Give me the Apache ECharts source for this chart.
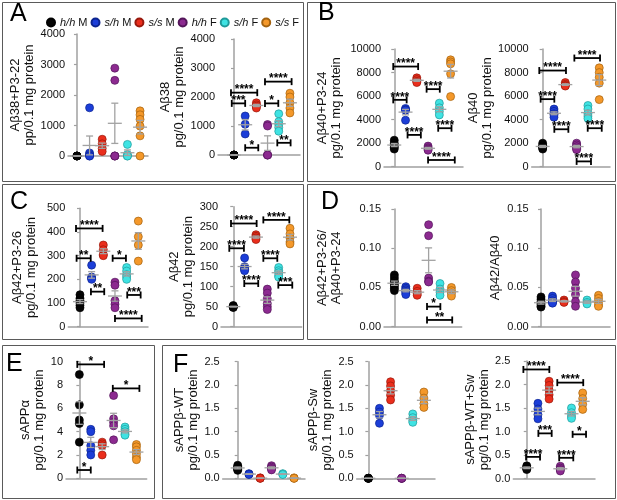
<!DOCTYPE html>
<html lang="en">
<head>
  <meta charset="UTF-8">
  <title>Aβ and sAPP levels</title>
  <style>html, body { margin: 0; padding: 0; background: #fff; }</style>
</head>
<body>
  <div id="main" style="width:617px;height:500px;"></div>
  <script src="https://cdn.jsdelivr.net/npm/echarts@6/dist/echarts.min.js"></script>
  <script>
  var myChart = echarts.init(document.getElementById('main'))
  var font = '"Liberation Sans", Arial, sans-serif'

  var groups = ['h/h M', 's/h M', 's/s M', 'h/h F', 's/h F', 's/s F']
  var colors = ['#050505', '#1c3ed8', '#ea2e1c', '#8c2a90', '#3fe3e3', '#f4982a']
  var edges = ['#000000', '#0c2490', '#98180c', '#53155a', '#1f9a9a', '#a3620f']

  // values per group (h/h M, s/h M, s/s M, h/h F, s/h F, s/s F)
  var ab38p3 = [[0, 0, 0, 0], [1580, 100, 50, 0, 0], [550, 400, 250, 150], [2880, 2480, 0, 0, 0], [380, 50, 0, 0], [1480, 1350, 1200, 980, 660, 0]]
  var ab38 = [[0, 0, 0, 0], [1345, 1060, 724], [1800, 1730, 1680, 1620], [1050, 1000, 0, 0, 0], [1420, 1150, 1050, 950, 820], [2130, 2000, 1800, 1620, 1450]]
  var ab40p3 = [[2250, 2000, 1800, 1650, 1500], [4950, 4850, 4800, 3950], [7550, 7400, 7250, 7150], [1750, 1600, 1500, 1400], [5400, 5000, 4700, 4400], [9080, 8900, 8740, 7890, 5960]]
  var ab40 = [[2000, 1800, 1700, 1600, 1500], [4900, 4700, 4500, 4400, 4200], [7150, 7000, 6900, 6850], [2000, 1850, 1700, 1550, 1450], [5200, 4900, 4500, 4300, 4100], [8400, 8000, 7600, 7100, 5700]]
  var ab42p3 = [[135, 120, 110, 100, 90, 80], [260, 210, 205, 200], [345, 325, 305, 300], [188, 175, 110, 95, 80], [250, 235, 220, 210, 200], [446, 380, 345, 277]]
  var ab42 = [[53, 51, 50, 49, 48], [172, 150, 147, 143, 140], [230, 226, 222, 218], [94, 84, 70, 58, 50, 43], [148, 140, 135, 128, 124], [246, 232, 222, 212, 207]]
  var ratioP3 = [[0.066, 0.062, 0.058, 0.055, 0.052, 0.049, 0.046], [0.051, 0.049, 0.047, 0.045, 0.043, 0.041], [0.049, 0.045, 0.042, 0.040], [0.130, 0.116, 0.062, 0.058, 0.057], [0.055, 0.048, 0.044, 0.040], [0.050, 0.046, 0.043, 0.039]]
  var ratio = [[0.038, 0.035, 0.032, 0.030, 0.028, 0.026, 0.025], [0.039, 0.036, 0.033, 0.031, 0.030], [0.034, 0.032, 0.031], [0.066, 0.057, 0.049, 0.041, 0.032, 0.026], [0.034, 0.031, 0.029], [0.040, 0.036, 0.032, 0.028, 0.026]]
  var sappA = [[8.9, 6.3, 5.0, 4.7, 3.1], [4.2, 4.0, 2.8, 2.4, 2.0], [3.1, 2.95, 2.8, 2.0], [7.1, 5.1, 4.8, 4.5, 3.3], [4.4, 4.2, 4.0, 3.8, 3.7], [2.9, 2.7, 2.4, 2.1, 1.8, 1.6]]
  var sappWT = [[0.28, 0.25, 0.22, 0.19, 0.17], [0.10, 0.09, 0.08], [0.01, 0, 0], [0.27, 0.24, 0.21, 0.18], [0.10, 0.09, 0.08], [0.01, 0, 0]]
  var sappSw = [[0, 0, 0, 0], [1.50, 1.42, 1.35, 1.18], [2.07, 1.98, 1.88, 1.78, 1.68], [0, 0, 0, 0], [1.38, 1.30, 1.24, 1.20], [1.85, 1.72, 1.60, 1.52]]
  var sappAll = [[0.27, 0.24, 0.21, 0.19], [1.60, 1.48, 1.36, 1.27], [2.07, 1.98, 1.88, 1.78, 1.69], [0.26, 0.22, 0.19, 0.16], [1.50, 1.40, 1.33, 1.28], [1.82, 1.70, 1.58, 1.47]]

  // significance brackets: [from group, to group, level, stars]
  var ab38Sig = [[-0.2, 1.0, 1780, '***'], [-0.27, 2.08, 2150, '****'], [1.0, 2.17, 250, '*'], [2.77, 3.96, 1780, '*'], [2.77, 5.15, 2530, '****'], [3.87, 5.06, 420, '**']]
  var ab40p3Sig = [[-0.09, 2.12, 8510, '****'], [-0.09, 1.1, 5680, '****'], [1.18, 2.36, 2700, '****'], [2.87, 4.04, 6590, '****'], [3.9, 5.08, 3270, '****'], [3.0, 5.37, 570, '****']]
  var ab40Sig = [[-0.3, 2.06, 8170, '****'], [2.8, 5.07, 9230, '****'], [-0.18, 1.03, 5740, '****'], [1.03, 2.27, 3180, '****'], [3.98, 5.22, 3270, '****'], [3.0, 4.27, 450, '****']]
  var ab42p3Sig = [[-0.34, 1.94, 415, '****'], [-0.29, 0.92, 289, '**'], [0.94, 2.08, 148, '**'], [2.8, 3.94, 289, '*'], [4.05, 5.2, 134, '***'], [3.0, 5.29, 35, '****']]
  var ab42Sig = [[-0.2, 2.06, 258, '****'], [2.65, 4.94, 267, '****'], [-0.35, 0.94, 196, '****'], [0.97, 2.2, 108, '****'], [2.65, 3.88, 171, '****'], [3.97, 5.2, 104, '***']]
  var ratioP3Sig = [[2.86, 4.03, 0.0256, '*'], [2.86, 5.07, 0.0086, '**']]
  var sappASig = [[-0.18, 2.17, 9.77, '*'], [2.93, 5.26, 7.71, '*'], [-0.18, 1.0, 0.71, '*']]
  var sappAllSig = [[-0.3, 2.02, 2.32, '****'], [2.73, 5.05, 2.04, '****'], [1.04, 2.23, 0.96, '***'], [4.1, 5.3, 0.94, '*'], [-0.06, 1.19, 0.46, '****'], [2.9, 4.16, 0.44, '****']]

  var plots = [
    { vals: ab38p3, sig: [], name: 'Aβ38+P3-22\npp/0.1 mg protein', max: 4000, step: 1000, dec: 0 },
    { vals: ab38, sig: ab38Sig, name: 'Aβ38\npg/0.1 mg protein', max: 4000, step: 1000, dec: 0 },
    { vals: ab40p3, sig: ab40p3Sig, name: 'Aβ40+P3-24\npg/0.1 mg protein', max: 10000, step: 2000, dec: 0 },
    { vals: ab40, sig: ab40Sig, name: 'Aβ40\npg/0.1 mg protein', max: 10000, step: 2000, dec: 0 },
    { vals: ab42p3, sig: ab42p3Sig, name: 'Aβ42+P3-26\npg/0.1 mg protein', max: 500, step: 100, dec: 0 },
    { vals: ab42, sig: ab42Sig, name: 'Aβ42\npg/0.1 mg protein', max: 300, step: 50, dec: 0 },
    { vals: ratioP3, sig: ratioP3Sig, name: 'Aβ42+P3-26/\nAβ40+P3-24', max: 0.15, step: 0.05, dec: 2 },
    { vals: ratio, sig: [], name: 'Aβ42/Aβ40', max: 0.15, step: 0.05, dec: 2 },
    { vals: sappA, sig: sappASig, name: 'sAPPα\npg/0.1 mg protein', max: 10, step: 2, dec: 0 },
    { vals: sappWT, sig: [], name: 'sAPPβ-WT\npg/0.1 mg protein', max: 2.5, step: 0.5, dec: 1 },
    { vals: sappSw, sig: [], name: 'sAPPβ-Sw\npg/0.1 mg protein', max: 2.5, step: 0.5, dec: 1 },
    { vals: sappAll, sig: sappAllSig, name: 'sAPPβ-WT+Sw\npg/0.1 mg protein', max: 2.5, step: 0.5, dec: 1 }
  ]

  // plot boxes in px: [axis x, axis end x, top tick y, zero y, x min, x max, name gap]
  var boxes = [
    [68, 148, 34, 156, -0.71, 5.63, 30],
    [218, 300, 39, 155, -1.43, 5.9, 20],
    [384, 463, 49, 166.7, -0.91, 6.1, 41],
    [531.7, 610, 49, 166.7, -0.97, 5.95, 28],
    [68.3, 148, 208.3, 326.7, -1.0, 5.83, 30],
    [221, 301.7, 206.7, 326.7, -1.08, 6.03, 26],
    [384, 461.7, 209, 326.7, -0.91, 5.9, 41],
    [531.7, 610, 209, 326.7, -0.81, 6.0, 29],
    [66, 146.7, 361.7, 478.3, -1.17, 5.9, 12],
    [222.7, 305, 361.7, 478.3, -1.33, 5.97, 17],
    [356.7, 435, 361.7, 478.3, -1.05, 6.0, 19],
    [513.3, 595, 361, 478.5, -1.2, 6.1, 19]
  ]

  function meanSem(v) {
    var m = v.reduce(function (a, b) { return a + b }, 0) / v.length
    var ss = 0
    v.forEach(function (x) { ss += (x - m) * (x - m) })
    var sd = v.length > 1 ? Math.sqrt(ss / (v.length - 1)) : 0
    return [m, sd / Math.sqrt(v.length)]
  }

  function drawMean(params, api) {
    var g = api.value(0), m = api.value(1), s = api.value(2)
    var c = api.coord([g, m]), hi = api.coord([g, m + s]), lo = api.coord([g, Math.max(0, m - s)])
    var st = { stroke: '#a2a2a2', lineWidth: 1.3 }
    return { type: 'group', children: [
      { type: 'line', shape: { x1: c[0] - 7, y1: c[1], x2: c[0] + 7, y2: c[1] }, style: st },
      { type: 'line', shape: { x1: c[0], y1: lo[1], x2: c[0], y2: hi[1] }, style: st },
      { type: 'line', shape: { x1: c[0] - 3.5, y1: hi[1], x2: c[0] + 3.5, y2: hi[1] }, style: st },
      { type: 'line', shape: { x1: c[0] - 3.5, y1: lo[1], x2: c[0] + 3.5, y2: lo[1] }, style: st }
    ]}
  }

  function bracketRenderer(sig) {
    return function (params, api) {
      var a = api.coord([api.value(0), api.value(2)])
      var b = api.coord([api.value(1), api.value(2)])
      var st = { stroke: '#000', lineWidth: 1.8 }
      return { type: 'group', children: [
        { type: 'line', shape: { x1: a[0], y1: a[1], x2: b[0], y2: b[1] }, style: st },
        { type: 'line', shape: { x1: a[0], y1: a[1] - 3.5, x2: a[0], y2: a[1] + 3.5 }, style: st },
        { type: 'line', shape: { x1: b[0], y1: b[1] - 3.5, x2: b[0], y2: b[1] + 3.5 }, style: st },
        { type: 'text', style: { text: sig[params.dataIndex][3], x: (a[0] + b[0]) / 2, y: a[1] - 2.5,
          align: 'center', verticalAlign: 'middle', font: 'bold 12px ' + font, fill: '#000' } }
      ]}
    }
  }

  var grid = [], xAxis = [], yAxis = [], series = []
  plots.forEach(function (p, i) {
    var b = boxes[i]
    grid.push({ left: b[0], right: 617 - b[1], top: b[2], bottom: 500 - b[3], outerBoundsMode: 'none' })
    xAxis.push({
      gridIndex: i, type: 'value', min: b[4], max: b[5],
      axisLine: { show: true, lineStyle: { color: '#a0a0a0', width: 1.5 } },
      axisTick: { show: false }, axisLabel: { show: false }, splitLine: { show: false }
    })
    yAxis.push({
      gridIndex: i, type: 'value', min: 0, max: p.max, interval: p.step,
      name: p.name, nameLocation: 'middle', nameGap: b[6],
      nameTextStyle: { fontFamily: font, fontSize: 13, lineHeight: 14, color: '#111' },
      axisLine: { show: true, lineStyle: { color: '#a0a0a0', width: 1.5 } },
      axisTick: { show: true, length: 3, lineStyle: { color: '#a0a0a0', width: 1.2 } },
      axisLabel: { fontFamily: font, fontSize: 11, color: '#111', margin: 3,
        formatter: function (v) { return v.toFixed(p.dec) } },
      splitLine: { show: false }
    })
    p.vals.forEach(function (v, g) {
      series.push({
        name: groups[g], type: 'scatter', xAxisIndex: i, yAxisIndex: i,
        data: v.map(function (y) { return [g, y] }),
        symbolSize: 8, z: 2,
        itemStyle: { color: colors[g], borderColor: edges[g], borderWidth: 0.7, opacity: 1 }
      })
    })
    series.push({
      type: 'custom', xAxisIndex: i, yAxisIndex: i, z: 3, silent: true,
      renderItem: drawMean, encode: { x: 0, y: 1 },
      data: p.vals.map(function (v, g) { var ms = meanSem(v); return [g, ms[0], ms[1]] })
    })
    if (p.sig.length) {
      series.push({
        type: 'custom', xAxisIndex: i, yAxisIndex: i, z: 4, silent: true,
        renderItem: bracketRenderer(p.sig), encode: { x: [0, 1], y: 2 },
        data: p.sig.map(function (s) { return [s[0], s[1], s[2]] })
      })
    }
  })

  // panel frames and letters
  var frames = [[2, 2, 301, 179], [307, 2, 308, 179], [2, 184, 301, 155], [307, 184, 308, 155], [2, 345, 152, 153], [162, 345, 453, 153]]
  var letters = [['A', 10, 14.5], ['B', 318, 13], ['C', 10, 202], ['D', 321, 202], ['E', 6, 364], ['F', 173, 365]]
  var graphic = []
  frames.forEach(function (f) {
    graphic.push({ type: 'rect', shape: { x: f[0] + 0.5, y: f[1] + 0.5, width: f[2], height: f[3] },
      style: { fill: 'none', stroke: '#5a5a5a', lineWidth: 1 }, silent: true })
  })
  letters.forEach(function (l) {
    graphic.push({ type: 'text', style: { text: l[0], x: l[1], y: l[2], font: '25px ' + font,
      fill: '#000', verticalAlign: 'middle' }, silent: true })
  })

  var option = {
    animation: false,
    backgroundColor: '#fff',
    legend: {
      data: groups, left: 41, top: 12, itemWidth: 8, itemHeight: 8, itemGap: 3,
      icon: 'circle', selectedMode: false,
      formatter: function (n) { var s = n.split(' '); return '{i|' + s[0] + '} ' + s[1] },
      textStyle: { fontFamily: font, fontSize: 11, color: '#111',
        rich: { i: { fontFamily: font, fontSize: 11, fontStyle: 'italic', color: '#111' } } }
    },
    graphic: graphic,
    grid: grid,
    xAxis: xAxis,
    yAxis: yAxis,
    series: series
  }
  myChart.setOption(option)
  </script>
</body>
</html>
